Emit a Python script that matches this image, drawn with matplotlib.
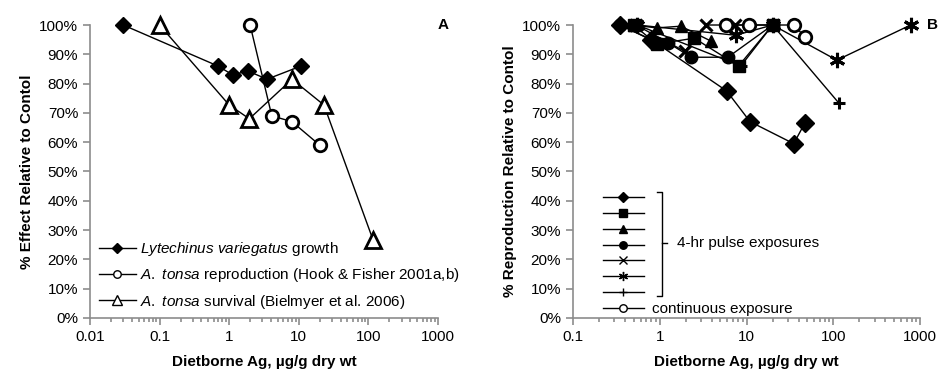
import matplotlib
matplotlib.use("Agg")
import matplotlib.pyplot as plt

# =========================================================
# Data - panel A (% effect relative to control)
# =========================================================

lyte_x = [0.03, 0.69, 1.12, 1.86, 3.5, 10.8]
lyte_y = [100, 86, 83, 84.3, 81.5, 86]

repro_x = [2.0, 4.1, 8.0, 20]
repro_y = [100, 69, 67, 59]

surv_x = [0.1, 1.0, 1.95, 8.0, 23, 117]
surv_y = [100, 72.7, 68, 81.5, 72.7, 26.6]

legend_a = [
    r"$\mathit{Lytechinus\ variegatus}$ growth",
    r"$\mathit{A.\ tonsa}$ reproduction (Hook & Fisher 2001a,b)",
    r"$\mathit{A.\ tonsa}$ survival (Bielmyer et al. 2006)",
]

# =========================================================
# Data - panel B (% reproduction relative to control)
# =========================================================

pulse_x = [
    [0.35, 0.8, 5.9, 11, 35, 47],
    [0.5, 0.92, 2.5, 8.1, 20],
    [0.5, 0.92, 1.75, 3.9],
    [0.35, 0.92, 1.24, 2.3, 6.1, 20],
    [0.53, 1.94, 3.4, 7.3, 20],
    [0.55, 7.5, 20, 110, 780],
    [0.55, 8.6, 20, 115],
]
pulse_y = [
    [100, 95, 77.5, 67, 59.5, 66.5],
    [100, 93.5, 95.5, 86, 100],
    [100, 99, 99.6, 94.5],
    [100, 94, 94, 89, 89, 100],
    [100, 91, 100, 100, 100],
    [100, 96.5, 100, 88, 100],
    [100, 86, 100, 73.5],
]
pulse_markers = ["D", "s", "^", "o", "x", (6, 2, 0), "+"]

cont_x = [5.8, 10.6, 35, 47]
cont_y = [100, 100, 100, 96]

# =========================================================
# Style
# =========================================================

plt.rcParams["font.family"] = ["Liberation Sans", "DejaVu Sans"]
plt.rcParams["mathtext.fontset"] = "custom"
plt.rcParams["mathtext.rm"] = "Liberation Sans"
plt.rcParams["mathtext.it"] = "Liberation Sans:italic"

GREY = "#8c8c8c"

fig = plt.figure(figsize=(9.4, 3.71), dpi=100)

ax_a = fig.add_axes([0.0957, 0.1429, 0.3702, 0.7897])
ax_b = fig.add_axes([0.6096, 0.1429, 0.3691, 0.7897])


def style_axis(ax, xmin, xmax, ylabel):
    ax.set_xscale("log")
    ax.set_xlim(xmin, xmax)
    ax.set_ylim(0, 100)
    ax.set_yticks(range(0, 101, 10))
    ax.set_yticklabels([f"{v}%" for v in range(0, 101, 10)])
    for side in ["top", "right"]:
        ax.spines[side].set_visible(False)
    for side in ["left", "bottom"]:
        ax.spines[side].set_color(GREY)
        ax.spines[side].set_linewidth(1.2)
    ax.tick_params(axis="both", which="both", direction="out", color=GREY,
                   labelsize=11, width=1.2)
    ax.tick_params(axis="both", which="major", length=5)
    ax.tick_params(axis="x", which="minor", length=3)
    ax.xaxis.set_major_formatter(
        matplotlib.ticker.FuncFormatter(lambda v, p: f"{v:g}"))
    ax.set_xlabel("Dietborne Ag, µg/g dry wt", fontsize=11,
                  fontweight="bold", labelpad=8)
    ax.set_ylabel(ylabel, fontsize=11, fontweight="bold", labelpad=4)


# =========================================================
# Panel A
# =========================================================

style_axis(ax_a, 0.01, 1000, "% Effect Relative to Contol")

ax_a.plot(lyte_x, lyte_y, color="black", lw=1, marker="D", ms=8,
          mfc="black", mec="black", clip_on=False, label=legend_a[0])
ax_a.plot(repro_x, repro_y, color="black", lw=1, marker="o", ms=9,
          mfc="white", mec="black", mew=2, clip_on=False, label=legend_a[1])
ax_a.plot(surv_x, surv_y, color="black", lw=1, marker="^", ms=12,
          mfc="white", mec="black", mew=2, clip_on=False, label=legend_a[2])

leg_a = ax_a.legend(loc="lower left", bbox_to_anchor=(-0.005, -0.012),
                    frameon=False, fontsize=11, markerscale=0.6,
                    handlelength=2.4, handletextpad=0.3, labelspacing=0.55,
                    borderaxespad=0.3)
for h in leg_a.legend_handles:
    h.set_markeredgewidth(1)

ax_a.text(1.0, 1.0, "A", transform=ax_a.transAxes, fontsize=11,
          fontweight="bold", ha="left", va="center")

# =========================================================
# Panel B
# =========================================================

style_axis(ax_b, 0.1, 1000, "% Reproduction Relative to Contol")

handles_b = []
for xs, ys, m in zip(pulse_x, pulse_y, pulse_markers):
    filled = m in ["D", "s", "^", "o"]
    size = 11 if m == (6, 2, 0) else 9
    line, = ax_b.plot(xs, ys, color="black", lw=1, marker=m, ms=size,
                      mfc="black", mec="black", mew=2.2 if not filled else 1,
                      clip_on=False)
    handles_b.append(line)

line, = ax_b.plot(cont_x, cont_y, color="black", lw=1, marker="o", ms=9,
                  mfc="white", mec="black", mew=2, clip_on=False)
handles_b.append(line)

labels_b = [""] * 7 + ["continuous exposure"]

leg_b = ax_b.legend(handles_b, labels_b, loc="lower left",
                    bbox_to_anchor=(0.055, -0.03), frameon=False,
                    fontsize=11, markerscale=0.6, handlelength=2.7,
                    handletextpad=0.55, labelspacing=0.115,
                    borderaxespad=0.3)
for h in leg_b.legend_handles:
    h.set_markeredgewidth(1)

# bracket grouping the pulse exposures
ax_b.plot([0.242, 0.256, 0.256, 0.242], [0.430, 0.430, 0.075, 0.075],
          transform=ax_b.transAxes, color="black", lw=1, clip_on=False)
ax_b.plot([0.256, 0.271], [0.256, 0.256], transform=ax_b.transAxes,
          color="black", lw=1, clip_on=False)
ax_b.text(0.30, 0.256, "4-hr pulse exposures", transform=ax_b.transAxes,
          fontsize=11, ha="left", va="center")

ax_b.text(1.02, 1.0, "B", transform=ax_b.transAxes, fontsize=11,
          fontweight="bold", ha="left", va="center")

fig.savefig("out.png", dpi=100)
